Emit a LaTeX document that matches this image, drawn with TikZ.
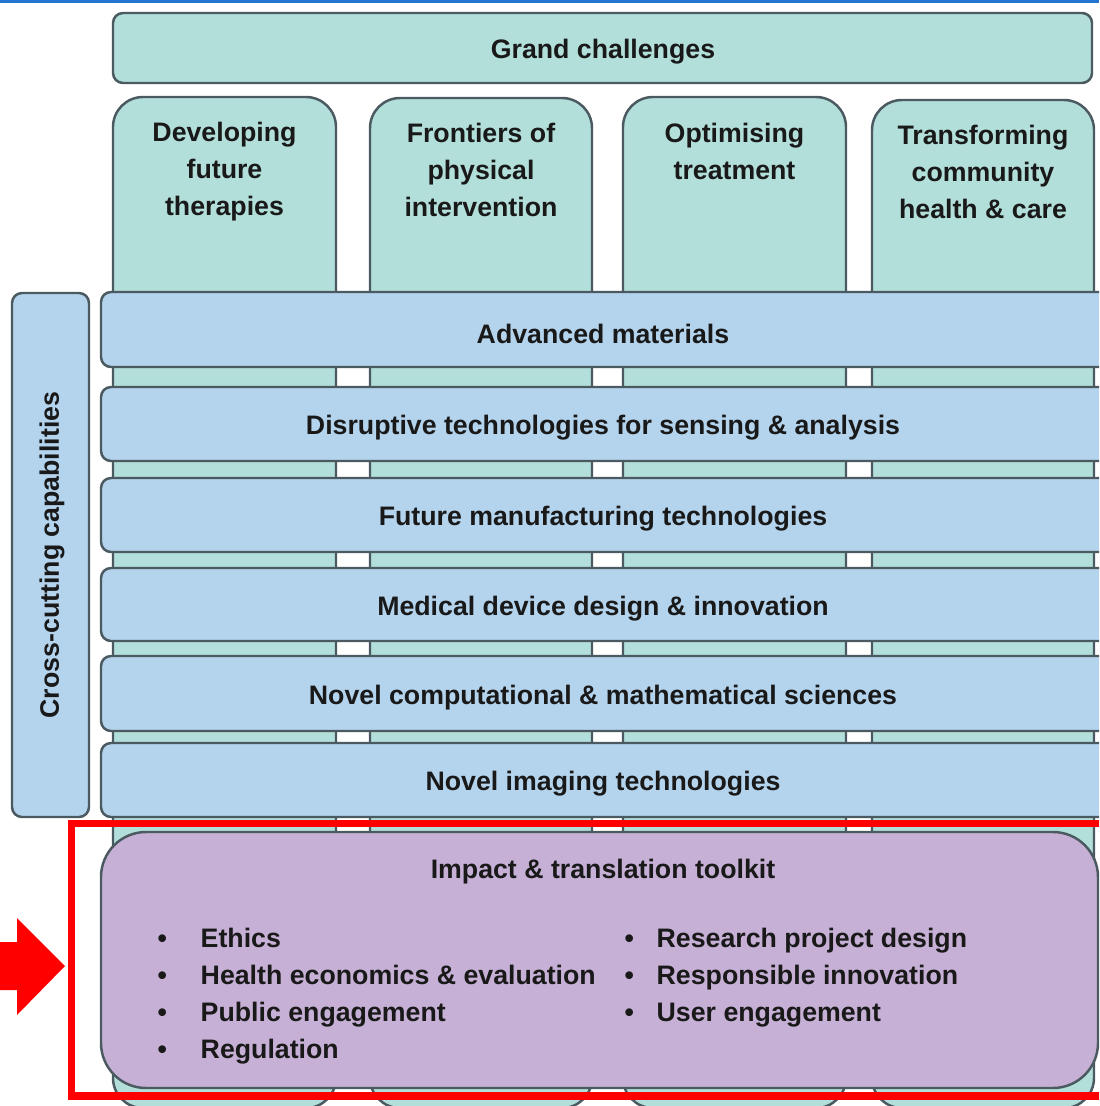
\documentclass[tikz,border=0pt]{standalone}
\usepackage{fontspec}
\setmainfont{Liberation Sans}
\definecolor{reto}{HTML}{B3DFDA}
\definecolor{capa}{HTML}{B4D3EC}
\definecolor{kit}{HTML}{C6B0D5}
\definecolor{borde}{HTML}{4B5A60}
\definecolor{barra}{HTML}{2275D0}
\definecolor{rojo}{HTML}{FF0000}

\begin{document}
\begin{tikzpicture}[x=0.01cm, y=-0.01cm,
    caja/.style={draw=borde, line width=0.7pt},
    texto/.style={font=\fontsize{7.6}{10.5}\selectfont\bfseries, text=black!90, align=center},
    lista/.style={texto, anchor=base west, inner sep=0pt}]
    \clip (0,0) rectangle (1099,1106);
    \fill[white] (0,0) rectangle (1099,1106);

    % Barra superior
    \fill[barra] (0,0) rectangle (1099,3);

    % Retos
    \filldraw[caja, fill=reto, rounded corners=0.1cm] (113,13) rectangle (1092,83);
    \node[texto] (retos) at (603,52) {Grand challenges};

    % Columnas
    \foreach \xa/\xb/\yt/\yc/\nom/\txt in {
        113/336/97/172/dev/{Developing\\future\\therapies},
        370/592/98/170/fro/{Frontiers of\\physical\\intervention},
        623/846/97/151/opt/{Optimising\\treatment},
        872/1094/100/172/tra/{Transforming\\community\\health \& care}} {
        \filldraw[caja, fill=reto, rounded corners=0.3cm] (\xa,\yt) rectangle (\xb,1108);
        \node[texto] (\nom) at ({(\xa+\xb)/2},\yc) {\txt};
    }

    % Capacidades transversales
    \foreach \ya/\yb/\nom/\txt in {
        292/367/mat/Advanced materials,
        387/461/sen/Disruptive technologies for sensing \& analysis,
        478/552/man/Future manufacturing technologies,
        568/641/dis/Medical device design \& innovation,
        656/731/comp/Novel computational \& mathematical sciences,
        743/817/ima/Novel imaging technologies} {
        \filldraw[caja, fill=capa, rounded corners=0.1cm] (101,\ya) rectangle (1120,\yb);
        \node[texto] (\nom) at (603,{(\ya+\yb)/2+4}) {\txt};
    }
    \filldraw[caja, fill=capa, rounded corners=0.1cm] (12,293) rectangle (89,817);
    \node[texto, rotate=90] (cross) at (52,555) {Cross-cutting capabilities};

    % Caja de impacto
    \filldraw[caja, fill=kit, rounded corners=0.45cm] (101,832) rectangle (1098,1088);
    \node[texto] (kit) at (603,872) {Impact \& translation toolkit};
    \foreach \txt [count=\i] in {Ethics, Health economics \& evaluation,
        Public engagement, Regulation}
        \node[lista] (izq\i) at (157,{910+37*\i}) {\makebox[0.43cm][l]{\textbullet}\txt};
    \foreach \txt [count=\i] in {Research project design, Responsible innovation,
        User engagement}
        \node[lista] (der\i) at (624,{910+37*\i}) {\makebox[0.32cm][l]{\textbullet}\txt};

    % Marco y flecha
    \draw[rojo, line width=2pt] (71.5,823.5) rectangle (1120,1096);
    \fill[rojo] (-5,942) -- (17,942) -- (17,918) -- (65,966) -- (17,1015)
        -- (17,990) -- (-5,990) -- cycle;
\end{tikzpicture}
\end{document}
